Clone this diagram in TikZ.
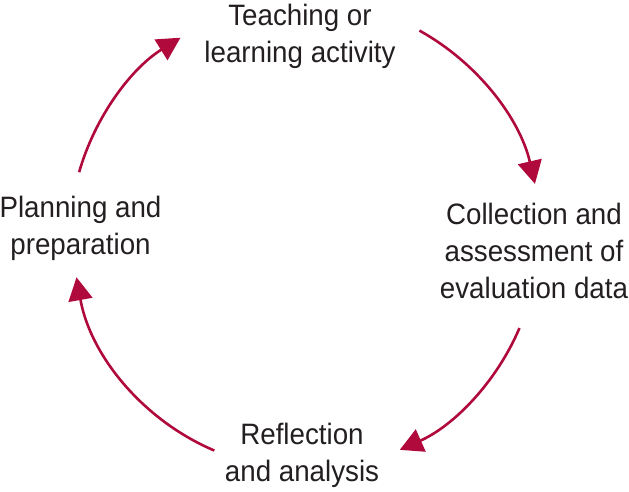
\documentclass[tikz,border=0pt]{standalone}
\usepackage{fontspec}
\setmainfont{Liberation Sans}[FakeStretch=0.94]
\usetikzlibrary{arrows.meta}
\definecolor{cyc}{RGB}{176,10,60}
\definecolor{txt}{RGB}{35,31,32}
\begin{document}
\begin{tikzpicture}[x=1pt,y=1pt,
  lbl/.style={anchor=base,align=center,inner sep=0pt,text=txt,font={\fontsize{29.5}{37}\selectfont}},
  cycarrow/.style={draw=cyc,line width=2.6pt,-{Triangle[length=23pt,width=24pt]}}]
\useasboundingbox (0,0) rectangle (629,492);
\node[lbl] (teach) at (300,429) {Teaching or\\learning activity};
\node[lbl] (coll) at (534,193) {Collection and\\assessment of\\evaluation data};
\node[lbl] (refl) at (302,10) {Reflection\\and analysis};
\node[lbl] (plan) at (80.5,237) {Planning and\\preparation};
\coordinate (O) at (305,255);
\draw[cycarrow] (O) ++(61:236) arc (61:13:236);
\draw[cycarrow] (O) ++(-23:233) arc (-23:-66:233);
\draw[cycarrow] (O) ++(-113:232) arc (-113:-170:232);
\draw[cycarrow] (O) ++(164:235) arc (164:122:235);
\end{tikzpicture}
\end{document}
